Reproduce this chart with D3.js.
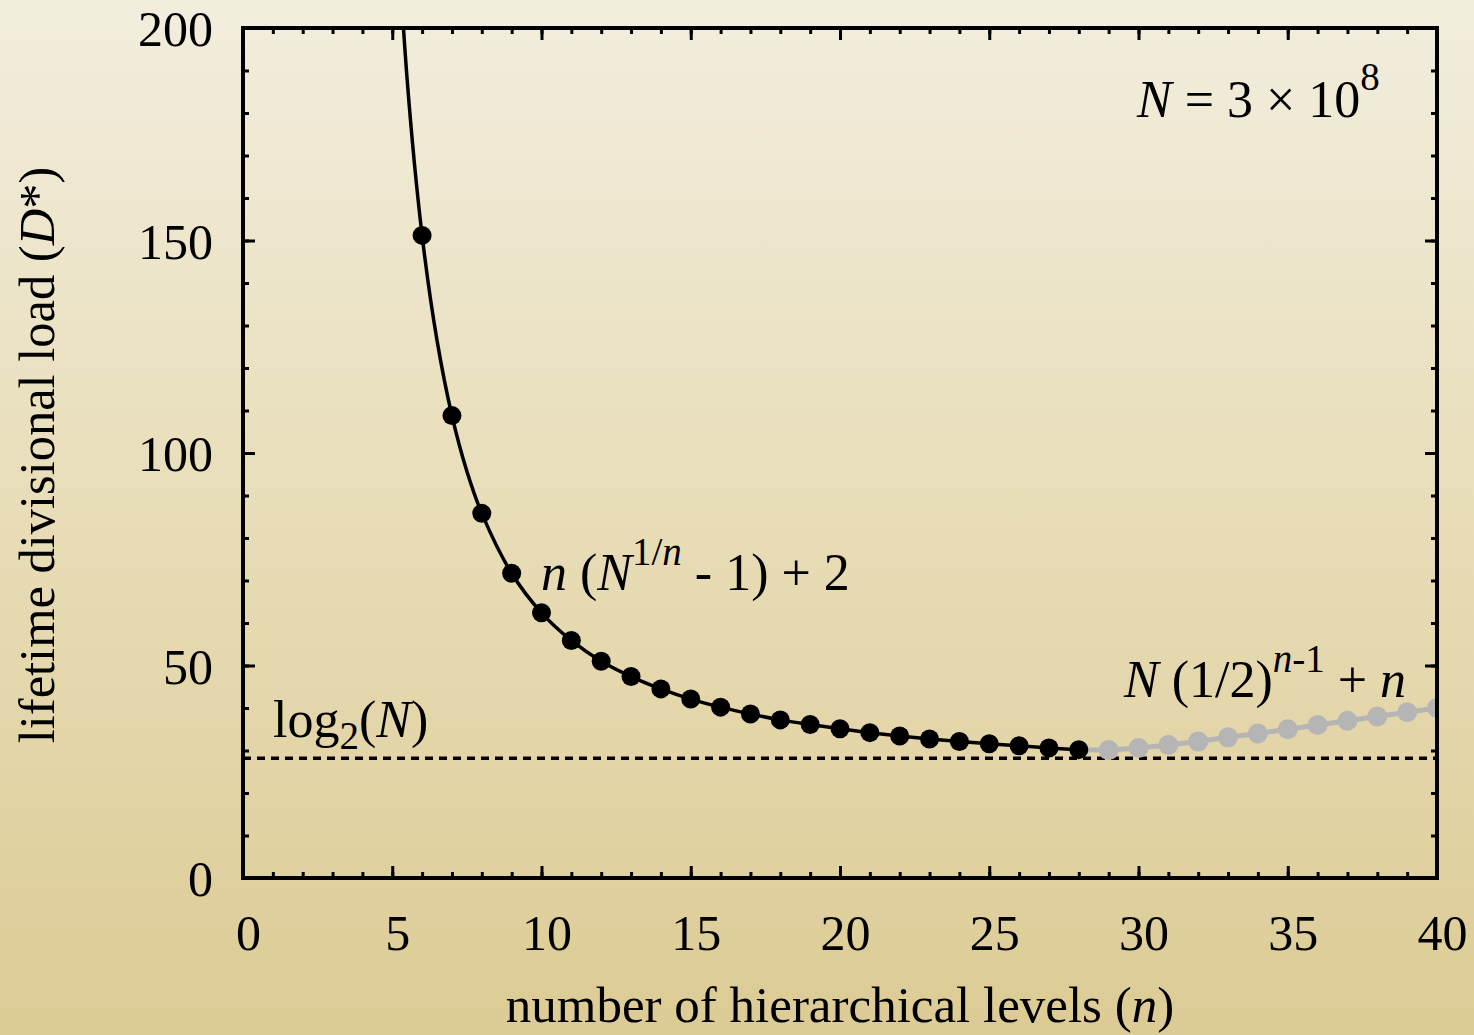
<!DOCTYPE html>
<html>
<head>
<meta charset="utf-8">
<script src="https://cdn.jsdelivr.net/npm/d3@7"></script>
</head>
<body style="margin:0;padding:0">
<script>
// ---- data ----
const nBlack = [6,7,8,9,10,11,12,13,14,15,16,17,18,19,20,21,22,23,24,25,26,27,28];
const dBlack = [151.2,108.8,85.8,71.7,62.4,55.9,51.0,47.4,44.5,42.1,40.2,38.6,37.2,36.1,35.1,34.2,33.4,32.7,32.1,31.6,31.1,30.6,30.2];
// smooth curve samples (leading part goes above the top of the frame)
const nCurve = [5,5.5,6,6.5,7,7.5,8,9,10,11,12,13,14,15,16,17,18,19,20,21,22,23,24,25,26,27,28];
const dCurve = [245,187.8,151.2,126.5,108.8,95.7,85.8,71.7,62.4,55.9,51.0,47.4,44.5,42.1,40.2,38.6,37.2,36.1,35.1,34.2,33.4,32.7,32.1,31.6,31.1,30.6,30.2];
const nGrey = [29,30,31,32,33,34,35,36,37,38,39,40];
const dGrey = [30.1,30.6,31.3,32.1,33.1,34.0,35.0,36.0,37.0,38.0,39.0,40.0];
const log2N = 28.16;
const xTicks = [0,5,10,15,20,25,30,35,40];
const yTicks = [0,50,100,150,200];

const W = 1474, H = 1035;
const L = 243, T = 28, R = 1437, B = 878;
const FONT = '"Liberation Serif", monospace';
const AF = 52, SF = 39; // annotation font, superscript font

const svg = d3.select("body").append("svg").attr("width", W).attr("height", H).style("display","block");
const defs = svg.append("defs");
const grad = defs.append("linearGradient").attr("id","bg").attr("x1",0).attr("y1",0).attr("x2",0).attr("y2",1);
grad.append("stop").attr("offset","0%").attr("stop-color","#f2eede");
grad.append("stop").attr("offset","50%").attr("stop-color","#e8ddb8");
grad.append("stop").attr("offset","100%").attr("stop-color","#dccb94");
svg.append("rect").attr("width",W).attr("height",H).attr("fill","url(#bg)");
defs.append("clipPath").attr("id","clip").append("rect").attr("x",L).attr("y",T).attr("width",R-L).attr("height",B-T);

const x = d3.scaleLinear().domain([0,40]).range([L,R]);
const y = d3.scaleLinear().domain([0,200]).range([B,T]);

// ticks: inward, on all four sides
const minorX = d3.range(0,41,1), minorY = d3.range(0,201,10);
function drawAxis(axisGen, tx, ty) {
  const g = svg.append("g").attr("transform",`translate(${tx},${ty})`).call(axisGen);
  g.attr("font-family", null).attr("font-size", null);
  g.select(".domain").remove();
  g.selectAll("line").attr("stroke","#000").attr("stroke-width",3);
  return g;
}
const big = 12, small = 6;
drawAxis(d3.axisTop(x).tickValues(minorX).tickSize(small).tickFormat(""), 0, B);
drawAxis(d3.axisTop(x).tickValues(xTicks).tickSize(big).tickFormat(""), 0, B);
drawAxis(d3.axisBottom(x).tickValues(minorX).tickSize(small).tickFormat(""), 0, T);
drawAxis(d3.axisBottom(x).tickValues(xTicks).tickSize(big).tickFormat(""), 0, T);
drawAxis(d3.axisRight(y).tickValues(minorY).tickSize(small).tickFormat(""), L, 0);
drawAxis(d3.axisRight(y).tickValues(yTicks).tickSize(big).tickFormat(""), L, 0);
drawAxis(d3.axisLeft(y).tickValues(minorY).tickSize(small).tickFormat(""), R, 0);
drawAxis(d3.axisLeft(y).tickValues(yTicks).tickSize(big).tickFormat(""), R, 0);

// tick labels
const xl = drawAxis(d3.axisBottom(x).tickValues(xTicks).tickSize(0).tickPadding(36).tickFormat(d3.format("d")), 5, B);
xl.selectAll("text").style("font-family",FONT).style("font-size","50px").attr("fill","#000");
const yl = drawAxis(d3.axisLeft(y).tickValues(yTicks).tickSize(0).tickPadding(30).tickFormat(d3.format("d")), L, 0);
yl.selectAll("text").style("font-family",FONT).style("font-size","50px").attr("fill","#000").attr("dy","0.35em");

const plot = svg.append("g").attr("clip-path","url(#clip)");

// dashed log2(N) line
plot.append("line").attr("x1",x(0)).attr("x2",x(40)).attr("y1",y(log2N)).attr("y2",y(log2N))
  .attr("stroke","#000").attr("stroke-width",3.5).attr("stroke-dasharray","8,6");

// grey branch
const greyPts = [[nBlack[nBlack.length-1], dBlack[dBlack.length-1]]].concat(nGrey.map((n,i)=>[n,dGrey[i]]));
plot.append("path").datum(greyPts).attr("fill","none").attr("stroke","#b5b5b5").attr("stroke-width",5)
  .attr("d", d3.line().x(d=>x(d[0])).y(d=>y(d[1])));
plot.selectAll("circle.g").data(nGrey).join("circle").attr("class","g")
  .attr("cx",d=>x(d)).attr("cy",(d,i)=>y(dGrey[i])).attr("r",10).attr("fill","#b5b5b5");

// black curve
plot.append("path").datum(nCurve.map((n,i)=>[n,dCurve[i]])).attr("fill","none").attr("stroke","#000").attr("stroke-width",3.5)
  .attr("d", d3.line().x(d=>x(d[0])).y(d=>y(d[1])).curve(d3.curveCatmullRom.alpha(0.5)));
plot.selectAll("circle.b").data(nBlack).join("circle").attr("class","b")
  .attr("cx",d=>x(d)).attr("cy",(d,i)=>y(dBlack[i])).attr("r",9.5).attr("fill","#000");

// frame
svg.append("rect").attr("x",L).attr("y",T).attr("width",R-L).attr("height",B-T)
  .attr("fill","none").attr("stroke","#000").attr("stroke-width",4);

function txt(xp, yp, size) {
  return svg.append("text").attr("x",xp).attr("y",yp).style("font-family",FONT).style("font-size",size+"px").attr("fill","#000");
}

// axis titles
const xt = txt(840, 1022, 51).attr("text-anchor","middle");
xt.append("tspan").text("number of hierarchical levels (");
xt.append("tspan").style("font-style","italic").text("n");
xt.append("tspan").text(")");

const yt = svg.append("text").attr("transform",`translate(54,455) rotate(-90)`).attr("text-anchor","middle")
  .style("font-family",FONT).style("font-size","50.5px").attr("fill","#000");
yt.append("tspan").text("lifetime divisional load (");
yt.append("tspan").style("font-style","italic").text("D");
yt.append("tspan").text("*)");

// annotations
const a1 = txt(1137, 117, AF);
a1.append("tspan").style("font-style","italic").text("N");
a1.append("tspan").text(" = 3 × 10");
a1.append("tspan").style("font-size",SF+"px").attr("dy",-27).text("8");

const a2 = txt(541, 590, AF);
a2.append("tspan").style("font-style","italic").text("n");
a2.append("tspan").text(" (");
a2.append("tspan").style("font-style","italic").text("N");
a2.append("tspan").style("font-size",SF+"px").attr("dy",-25).text("1/");
a2.append("tspan").style("font-size",SF+"px").style("font-style","italic").text("n");
a2.append("tspan").attr("dy",25).text(" - 1) + 2");

const a3 = txt(1124, 697, AF);
a3.append("tspan").style("font-style","italic").text("N");
a3.append("tspan").text(" (1/2)");
a3.append("tspan").style("font-size",SF+"px").style("font-style","italic").attr("dy",-25).text("n");
a3.append("tspan").style("font-size",SF+"px").text("-1");
a3.append("tspan").attr("dy",25).attr("dx",0).text(" + ");
a3.append("tspan").style("font-style","italic").text("n");

const a4 = txt(273, 737, AF);
a4.append("tspan").text("log");
a4.append("tspan").style("font-size",SF+"px").attr("dy",12).text("2");
a4.append("tspan").attr("dy",-12).text("(");
a4.append("tspan").style("font-style","italic").text("N");
a4.append("tspan").text(")");
</script>
</body>
</html>
